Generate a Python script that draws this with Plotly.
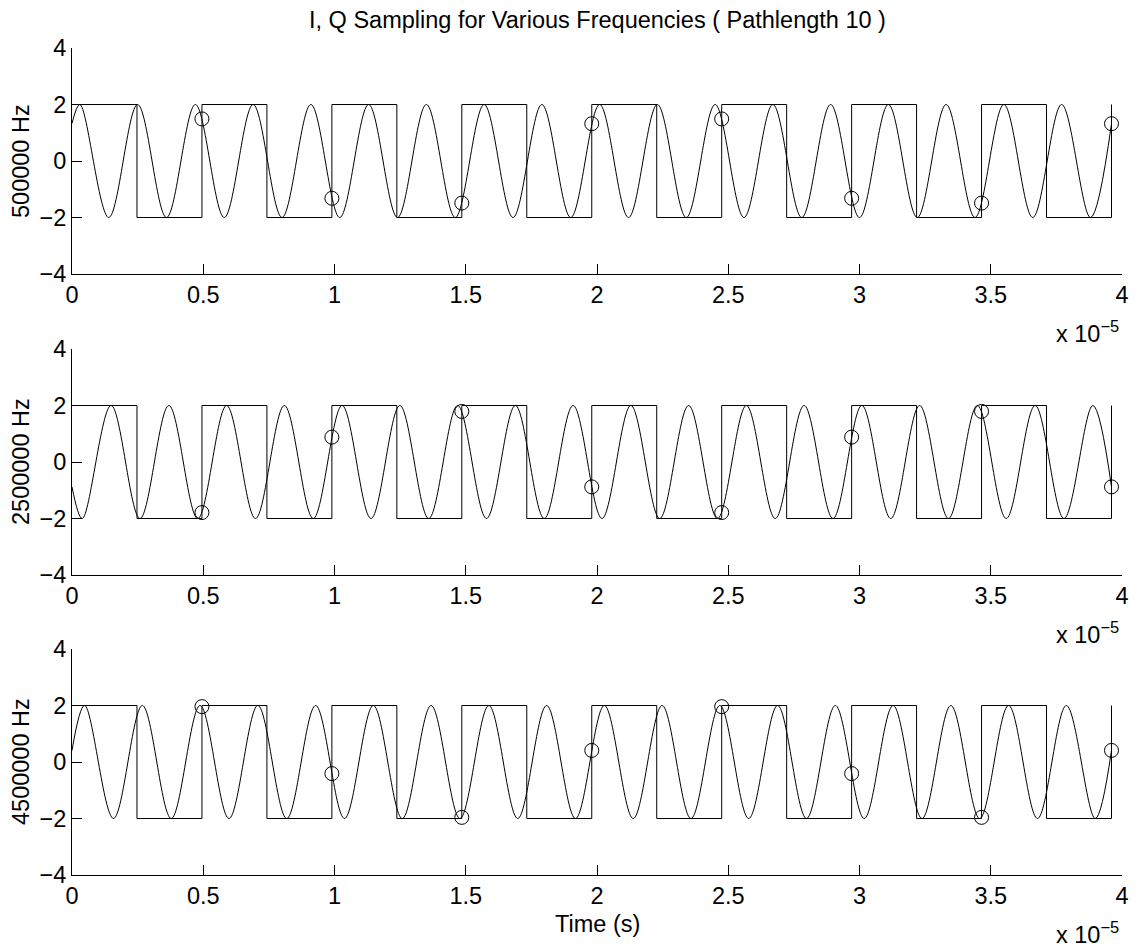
import plotly.graph_objects as go

# ---------------- data (time in units of 1e-5 s) ----------------
TITLE = "I, Q Sampling for Various Frequencies ( Pathlength 10 )"
PANEL_LABELS = ["500000 Hz", "2500000 Hz", "4500000 Hz"]
X_LABEL = "Time (s)"
X_TICKS = [0, 0.5, 1, 1.5, 2, 2.5, 3, 3.5, 4]
X_TICK_TEXT = ["0", "0.5", "1", "1.5", "2", "2.5", "3", "3.5", "4"]
Y_TICKS = [-4, -2, 0, 2, 4]
Y_TICK_TEXT = ["\u22124", "\u22122", "0", "2", "4"]
X_EXPONENT = "x 10<sup>\u22125</sup>"

# reference square wave: edge times and levels
SQUARE_T = [0, 0.2475, 0.495, 0.7425, 0.99, 1.2375, 1.485, 1.7325, 1.98,
            2.2275, 2.475, 2.7225, 2.97, 3.2175, 3.465, 3.7125, 3.96]
SQUARE_V = [2, -2, 2, -2, 2, -2, 2, -2, 2, -2, 2, -2, 2, -2, 2, -2, 2]

# sampling instants and sampled (circled) values
SAMPLE_T = [0.495, 0.99, 1.485, 1.98, 2.475, 2.97, 3.465, 3.96]
SAMPLES_500K = [1.49, -1.32, -1.49, 1.32, 1.49, -1.32, -1.49, 1.32]
SAMPLES_2500K = [-1.79, 0.88, 1.79, -0.88, -1.79, 0.88, 1.79, -0.88]
SAMPLES_4500K = [1.96, -0.41, -1.96, 0.41, 1.96, -0.41, -1.96, 0.41]

# received sinusoids: start, turning points (peaks/troughs) and end
SINE_500K_T = [0, 0.030, 0.140, 0.250, 0.360, 0.470, 0.580, 0.690, 0.800, 0.910,
               1.020, 1.130, 1.240, 1.350, 1.460, 1.570, 1.680, 1.790, 1.900,
               2.010, 2.120, 2.230, 2.340, 2.450, 2.560, 2.670, 2.780, 2.890,
               3.000, 3.110, 3.220, 3.330, 3.440, 3.550, 3.660, 3.770, 3.880, 3.96]
SINE_500K_V = [1.33, 2, -2, 2, -2, 2, -2, 2, -2, 2, -2, 2, -2, 2, -2, 2, -2, 2, -2,
               2, -2, 2, -2, 2, -2, 2, -2, 2, -2, 2, -2, 2, -2, 2, -2, 2, -2, 1.32]

SINE_2500K_T = [0, 0.039, 0.149, 0.259, 0.369, 0.479, 0.589, 0.699, 0.809, 0.919,
                1.029, 1.139, 1.249, 1.359, 1.469, 1.579, 1.689, 1.799, 1.909,
                2.019, 2.129, 2.239, 2.349, 2.459, 2.569, 2.679, 2.789, 2.899,
                3.009, 3.119, 3.229, 3.339, 3.449, 3.559, 3.669, 3.779, 3.889, 3.96]
SINE_2500K_V = [-0.88, -2, 2, -2, 2, -2, 2, -2, 2, -2, 2, -2, 2, -2, 2, -2, 2, -2, 2,
                -2, 2, -2, 2, -2, 2, -2, 2, -2, 2, -2, 2, -2, 2, -2, 2, -2, 2, -0.88]

SINE_4500K_T = [0, 0.048, 0.158, 0.268, 0.378, 0.488, 0.598, 0.708, 0.818, 0.928,
                1.038, 1.148, 1.258, 1.368, 1.478, 1.588, 1.698, 1.808, 1.918,
                2.028, 2.138, 2.248, 2.358, 2.468, 2.578, 2.688, 2.798, 2.908,
                3.018, 3.128, 3.238, 3.348, 3.458, 3.568, 3.678, 3.788, 3.898, 3.96]
SINE_4500K_V = [0.41, 2, -2, 2, -2, 2, -2, 2, -2, 2, -2, 2, -2, 2, -2, 2, -2, 2, -2,
                2, -2, 2, -2, 2, -2, 2, -2, 2, -2, 2, -2, 2, -2, 2, -2, 2, -2, 0.41]

PANELS = [
    (SINE_500K_T, SINE_500K_V, SAMPLES_500K),
    (SINE_2500K_T, SINE_2500K_V, SAMPLES_2500K),
    (SINE_4500K_T, SINE_4500K_V, SAMPLES_4500K),
]

# ---------------- layout ----------------
W, H = 1137, 949
ML, MR, MT, MB = 72, 15, 48, 74
PH = H - MT - MB
FONT = "Liberation Sans, Arial, Helvetica, sans-serif"
FS = 23.5

# panel pixel extents (top, bottom) of the plot area
PANEL_PX = [(48, 274), (349, 575), (649, 875)]


def py(px):
    return (H - MB - px) / PH


def pxx(px):
    return (px - ML) / (W - ML - MR)


fig = go.Figure()

for i, (st, sv, samp) in enumerate(PANELS):
    xa = "x" if i == 0 else f"x{i+1}"
    ya = "y" if i == 0 else f"y{i+1}"
    fig.add_trace(go.Scatter(x=SQUARE_T, y=SQUARE_V, mode="lines",
                             line=dict(color="black", width=1, shape="hv"),
                             xaxis=xa, yaxis=ya, showlegend=False, hoverinfo="skip"))
    fig.add_trace(go.Scatter(x=st, y=sv, mode="lines",
                             line=dict(color="black", width=1, shape="spline", smoothing=1),
                             xaxis=xa, yaxis=ya, showlegend=False, hoverinfo="skip"))
    fig.add_trace(go.Scatter(x=SAMPLE_T, y=samp, mode="markers",
                             marker=dict(symbol="circle-open", size=14, color="black",
                                         line=dict(width=1, color="black")),
                             xaxis=xa, yaxis=ya, showlegend=False, hoverinfo="skip"))

axis_common = dict(showline=True, linecolor="black", linewidth=1, mirror=False,
                   ticks="inside", ticklen=10, tickwidth=1, tickcolor="black",
                   showgrid=False, zeroline=False,
                   tickfont=dict(family=FONT, size=FS, color="black"))

layout = dict(width=W, height=H, margin=dict(l=ML, r=MR, t=MT, b=MB, autoexpand=False),
              paper_bgcolor="white", plot_bgcolor="white",
              font=dict(family=FONT, size=FS, color="black"))

annotations = []
for i, (top, bot) in enumerate(PANEL_PX):
    xk = "xaxis" if i == 0 else f"xaxis{i+1}"
    yk = "yaxis" if i == 0 else f"yaxis{i+1}"
    ya = "y" if i == 0 else f"y{i+1}"
    layout[xk] = dict(axis_common, range=[0, 4], tickvals=X_TICKS, ticktext=X_TICK_TEXT,
                      anchor=ya, domain=[0, 1])
    layout[yk] = dict(axis_common, range=[-4, 4], tickvals=Y_TICKS, ticktext=Y_TICK_TEXT,
                      anchor="x" if i == 0 else f"x{i+1}", domain=[py(bot), py(top)])
    annotations.append(dict(text=PANEL_LABELS[i], textangle=-90, xref="paper", yref="paper",
                            x=pxx(21), y=py((top + bot) / 2), xanchor="center",
                            yanchor="middle", showarrow=False,
                            font=dict(family=FONT, size=FS, color="black")))
    annotations.append(dict(text=X_EXPONENT, xref="paper", yref="paper",
                            x=pxx(1121), y=py(bot + 58), xanchor="right",
                            yanchor="middle", showarrow=False,
                            font=dict(family=FONT, size=FS, color="black")))

annotations.append(dict(text=TITLE, xref="paper", yref="paper", x=0.5, y=py(20),
                        xanchor="center", yanchor="middle", showarrow=False,
                        font=dict(family=FONT, size=FS, color="black")))
annotations.append(dict(text=X_LABEL, xref="paper", yref="paper", x=0.5, y=py(924),
                        xanchor="center", yanchor="middle", showarrow=False,
                        font=dict(family=FONT, size=FS, color="black")))
layout["annotations"] = annotations

fig.update_layout(**layout)
fig.write_html("out.html")
